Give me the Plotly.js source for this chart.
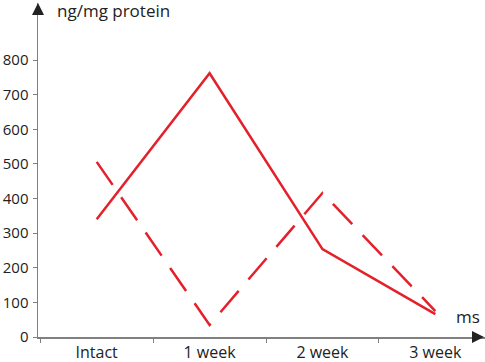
<!DOCTYPE html>
<html>
<head>
<meta charset="utf-8">
<script src="https://cdn.plot.ly/plotly-3.0.1.min.js"></script>
<style>html,body{margin:0;padding:0;background:#fff;}#chart{width:485px;height:362px;}</style>
</head>
<body>
<div id="chart"></div>
<script>
const categories = ["Intact", "1 week", "2 week", "3 week"];
const solidValues = [340, 762, 254, 66];
const dashedValues = [506, 35, 416, 75];
const yTickValues = [0, 100, 200, 300, 400, 500, 600, 700, 800];
const yTitle = "ng/mg protein";
const xTitle = "ms";

const red = "#e4202b";
const font = {family: "Open Sans, sans-serif", size: 16, color: "#222222"};
const yFont = {family: "Open Sans, sans-serif", size: 15, color: "#222222"};

const traces = [
  {x: categories, y: solidValues, type: "scatter", mode: "lines",
   line: {color: red, width: 2.5}, hoverinfo: "skip"},
  {x: categories, y: dashedValues, type: "scatter", mode: "lines",
   line: {color: red, width: 2.5, dash: "28px,15px"}, hoverinfo: "skip"}
];

const layout = {
  width: 485, height: 362,
  margin: {l: 38, r: 0, t: 3, b: 25},
  paper_bgcolor: "#fff", plot_bgcolor: "#fff",
  showlegend: false,
  font: font,
  xaxis: {
    type: "category", range: [-0.52, 3.44],
    showline: true, linecolor: "#808080", linewidth: 1.5,
    ticks: "outside", tickson: "boundaries", ticklen: 4, tickcolor: "#808080",
    showgrid: false, zeroline: false, tickfont: font, fixedrange: true
  },
  yaxis: {
    range: [0, 965], tickvals: yTickValues,
    showline: true, linecolor: "#808080", linewidth: 1.5,
    ticks: "outside", ticklen: 4, tickcolor: "#808080", ticklabelstandoff: 1,
    showgrid: false, zeroline: false, tickfont: yFont, fixedrange: true
  },
  annotations: [
    {xref: "paper", yref: "paper", x: 0, y: 1.0, ax: 0, ay: 10, axref: "pixel", ayref: "pixel",
     showarrow: true, arrowhead: 2, arrowsize: 1.6, arrowwidth: 1.5, arrowcolor: "#222", text: ""},
    {xref: "paper", yref: "paper", x: 1.0, y: 0, ax: -10, ay: 0,
     showarrow: true, arrowhead: 2, arrowsize: 1.6, arrowwidth: 1.5, arrowcolor: "#222", text: ""},
    {xref: "paper", yref: "paper", x: 0.037, y: 1.0, xanchor: "left", yanchor: "middle", yshift: -7,
     showarrow: false, text: yTitle, font: {family: "Open Sans, sans-serif", size: 17, color: "#222"}},
    {xref: "paper", yref: "paper", x: 0.93, y: 0.06, xanchor: "left", yanchor: "middle",
     showarrow: false, text: xTitle, font: {family: "Open Sans, sans-serif", size: 17, color: "#222"}}
  ]
};

Plotly.newPlot("chart", traces, layout, {displayModeBar: false, staticPlot: true});
</script>
</body>
</html>
